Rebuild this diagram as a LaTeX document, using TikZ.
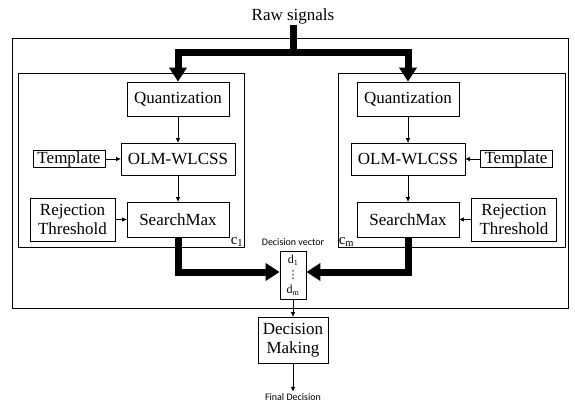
\documentclass[tikz,border=0pt]{standalone}
\usepackage{fontspec}
\setmainfont{Liberation Serif}
\newfontfamily\labelfont{Carlito}
\newfontfamily\dotsfont{DejaVu Sans}
\usetikzlibrary{positioning, arrows.meta}

\begin{document}
\begin{tikzpicture}[x=1pt, y=-1pt, every block/.style={draw, line width=0.8pt, inner sep=1pt, align=center, font=\fontsize{17}{19}\selectfont}, every frame/.style={draw, line width=0.8pt}, fat/.style={line width=7pt, -{Triangle[width=17pt, length=14pt]}}, >={Triangle[length=4.5pt, width=4pt]}]

    \useasboundingbox (0,0) rectangle (575,403);

    % Outer frame and the two channel boxes
    \node[every frame, minimum width=556pt, minimum height=270pt] (frame) at (290,173) {};
    \node[every frame, minimum width=226pt, minimum height=174pt] (C-1) at (131,160) {};
    \node[every frame, minimum width=227pt, minimum height=174pt] (C-m) at (451.5,160) {};

    % Blocks inside each channel
    \foreach \c/\x/\tx/\rx in {1/178/69/72.5, m/408/516/514} {
        \node[every block, minimum width=102pt, minimum height=34pt] (Q-\c) at (\x, 99) {Quantization};
        \node[every block, minimum width=114pt, minimum height=32pt] (O-\c) at (\x, 159) {OLM-WLCSS};
        \node[every block, minimum width=102pt, minimum height=35pt] (S-\c) at (\x, 219.5) {SearchMax};
        \node[every block, minimum width=72pt, minimum height=15pt, inner sep=0.5pt] (T-\c) at (\tx, 159) {Template};
        \node[every block, minimum width=85pt, minimum height=43pt] (R-\c) at (\rx, 219.5) {Rejection\\Threshold};

        \draw[->, line width=0.8pt] (Q-\c) -- (O-\c);
        \draw[->, line width=0.8pt] (O-\c) -- (S-\c);
        \draw[->, line width=0.8pt] (T-\c) -- (O-\c);
        \draw[->, line width=0.8pt] (R-\c) -- (S-\c);
    }

    % Channel names
    \node[font=\fontsize{15}{15}\selectfont, anchor=south east, inner sep=1pt] (c1) at (C-1.south east) {c\textsubscript{1}};
    \node[font=\fontsize{15}{15}\selectfont, anchor=south west, inner sep=1pt] (cm) at (C-m.south west) {c\textsubscript{m}};

    % Input
    \node[font=\fontsize{17}{19}\selectfont, inner sep=1pt] (raw) at (293,16) {Raw signals};
    \coordinate (split) at (293,53);
    \draw[fat] (raw.south) -- (split) -| (Q-1.north);
    \draw[fat] (raw.south) -- (split) -| (Q-m.north);

    % Decision vector
    \node[every block, minimum width=26pt, minimum height=48pt, inner sep=0.5pt, font=\fontsize{12}{15}\selectfont] (D) at (293,275) {d\textsubscript{1}\\{\dotsfont\fontsize{11}{15}\selectfont ⋮}\\d\textsubscript{m}};
    \node[font=\labelfont\fontsize{10}{12}\selectfont, above=1pt of D] (DV) {Decision vector};
    \draw[fat] (S-1.south) |- ([yshift=3pt]D.west);
    \draw[fat] (S-m.south) |- ([yshift=3pt]D.east);

    % Output
    \node[every block, minimum width=70pt, minimum height=46pt] (M) at (293,340) {Decision\\Making};
    \node[font=\labelfont\fontsize{10}{12}\selectfont, inner sep=2pt] (F) at (293,397) {Final Decision};
    \draw[->, line width=0.8pt] (D) -- (M);
    \draw[->, line width=0.8pt] (M) -- (F);

\end{tikzpicture}
\end{document}
